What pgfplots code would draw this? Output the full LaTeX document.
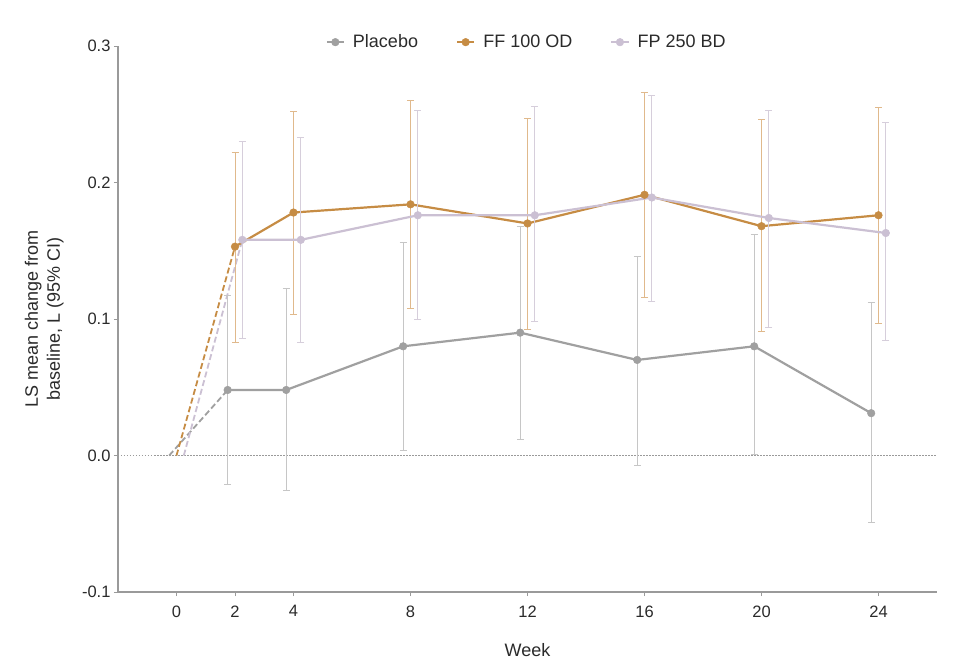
\documentclass[border=0pt]{standalone}
\usepackage{pgfplots}
\pgfplotsset{compat=1.18}
\usepackage{pgfplotstable}
\usepackage{fontspec}
\setmainfont{Liberation Sans}
\definecolor{plac}{HTML}{A0A0A0}
\definecolor{placerr}{HTML}{C6C6C6}
\definecolor{ff}{HTML}{C68C44}
\definecolor{fferr}{HTML}{E0B98C}
\definecolor{fp}{HTML}{CBC0D3}
\definecolor{fperr}{HTML}{D6CEDB}
\definecolor{axgray}{HTML}{9A9A9A}
\definecolor{txt}{HTML}{2A2A2A}

\pgfplotstableread{
x y ep em
1.75 0.048 0.069 0.069
3.75 0.048 0.074 0.074
7.75 0.080 0.076 0.076
11.75 0.090 0.078 0.078
15.75 0.070 0.076 0.077
19.75 0.080 0.082 0.079
23.75 0.031 0.081 0.080
}\placebo
\pgfplotstableread{
x y ep em
2 0.153 0.069 0.070
4 0.178 0.074 0.075
8 0.184 0.076 0.076
12 0.170 0.077 0.078
16 0.191 0.075 0.075
20 0.168 0.078 0.077
24 0.176 0.079 0.079
}\ff
\pgfplotstableread{
x y ep em
2.25 0.158 0.072 0.072
4.25 0.158 0.075 0.075
8.25 0.176 0.077 0.076
12.25 0.176 0.080 0.078
16.25 0.189 0.075 0.076
20.25 0.174 0.079 0.080
24.25 0.163 0.081 0.079
}\fp

\begin{document}
\begin{tikzpicture}
\useasboundingbox (-118pt,-72pt) rectangle (858pt,592pt);
\begin{axis}[
  at={(0pt,0pt)}, anchor=south west,
  scale only axis, width=819pt, height=546pt,
  xmin=-2, xmax=26, ymin=-0.1, ymax=0.3,
  axis lines=left,
  axis line style={-, color=axgray, line width=1.4pt},
  xtick={0,2,4,8,12,16,20,24},
  ytick={-0.1,0,0.1,0.2,0.3},
  tick align=outside,
  major tick length=4pt,
  tick style={color=axgray, line width=0.9pt},
  /pgf/number format/assume math mode=true,
  yticklabel style={/pgf/number format/.cd, fixed, fixed zerofill, precision=1},
  ticklabel style={font=\fontsize{16.5}{19}\selectfont, text=txt},
  xticklabel style={yshift=-6pt},
  xlabel={Week},
  xlabel style={at={(axis description cs:0.5,-0.106)}, anchor=center, font=\fontsize{18}{21}\selectfont, text=txt},
  ylabel={LS mean change from\\baseline, L (95\% CI)},
  ylabel style={at={(axis description cs:-0.090,0.5)}, anchor=center, align=center, font=\fontsize{18}{22}\selectfont, text=txt},
  legend columns=3,
  legend style={draw=none, fill=none, at={(axis description cs:0.499,1.007)}, anchor=center,
    font=\fontsize{18}{21}\selectfont, text=txt,
    /tikz/every odd column/.append style={column sep=6pt},
    /tikz/every even column/.append style={column sep=36pt}},
  clip=false,
]
\addplot[axgray, dash pattern=on 1.5pt off 1.5pt, line width=1.3pt, forget plot] coordinates {(-2,0) (26,0)};
% dashed lead-in segments
\addplot[plac, dashed, dash pattern=on 6pt off 3pt, line width=1.8pt, forget plot] coordinates {(-0.25,0) (1.75,0.048)};
\addplot[fp, dashed, dash pattern=on 6pt off 3pt, line width=1.8pt, forget plot] coordinates {(0.25,0) (2.25,0.158)};
\addplot[ff, dashed, dash pattern=on 6pt off 3pt, line width=1.8pt, forget plot] coordinates {(0,0) (2,0.153)};

\addplot[plac, line width=2.2pt, mark=*, mark size=3.8pt, mark options={fill=plac, draw=plac, line width=0.5pt},
  error bars/.cd, y dir=both, y explicit,
  error bar style={placerr, line width=1pt},
  error mark options={rotate=90, mark size=3.5pt, placerr, line width=1pt}]
  table[x=x, y=y, y error plus=ep, y error minus=em]{\placebo};
\addlegendentry{Placebo}

\addplot[ff, line width=2.2pt, mark=*, mark size=3.8pt, mark options={fill=ff, draw=ff, line width=0.5pt},
  error bars/.cd, y dir=both, y explicit,
  error bar style={fferr, line width=1pt},
  error mark options={rotate=90, mark size=3.5pt, fferr, line width=1pt}]
  table[x=x, y=y, y error plus=ep, y error minus=em]{\ff};
\addlegendentry{FF 100 OD}

\addplot[fp, line width=2.2pt, mark=*, mark size=3.8pt, mark options={fill=fp, draw=fp, line width=0.5pt},
  error bars/.cd, y dir=both, y explicit,
  error bar style={fperr, line width=1pt},
  error mark options={rotate=90, mark size=3.5pt, fperr, line width=1pt}]
  table[x=x, y=y, y error plus=ep, y error minus=em]{\fp};
\addlegendentry{FP 250 BD}
\end{axis}
\end{tikzpicture}
\end{document}
